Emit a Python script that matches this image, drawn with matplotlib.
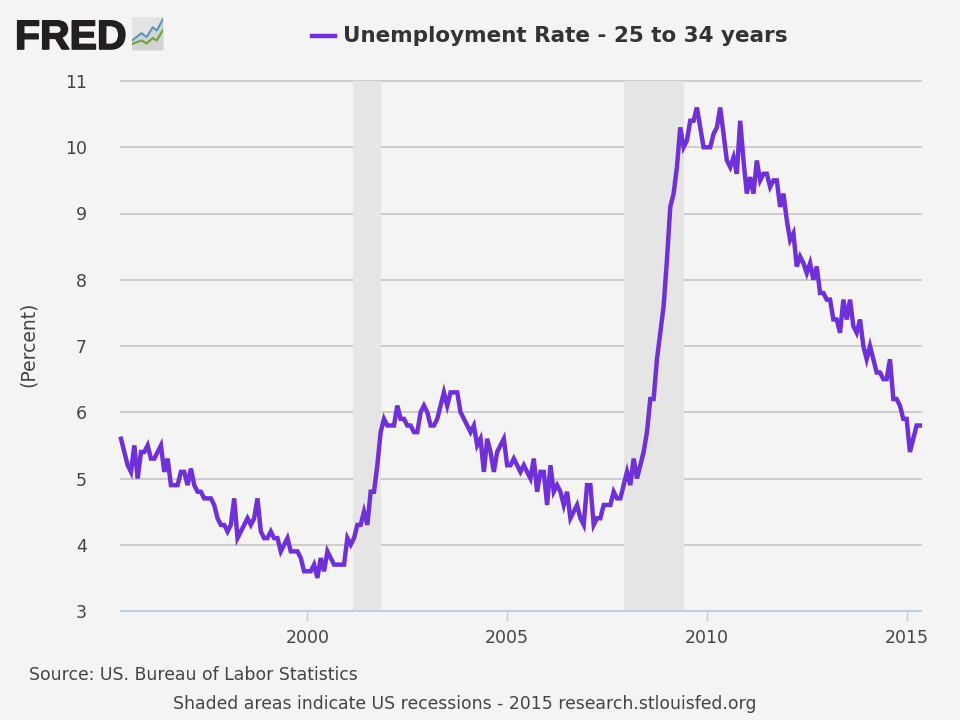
import matplotlib
matplotlib.use('Agg')
import matplotlib.pyplot as plt
import matplotlib.patheffects as pe
from matplotlib.lines import Line2D
import numpy as np

# monthly, May 1995 - May 2015
start_year = 1995 + 4 / 12
rate = [
    5.6, 5.4, 5.2, 5.1, 5.5, 5.0, 5.4, 5.4,
    5.5, 5.3, 5.3, 5.4, 5.5, 5.1, 5.3, 4.9, 4.9, 4.9, 5.1, 5.1,
    4.9, 5.15, 4.9, 4.8, 4.8, 4.7, 4.7, 4.7, 4.6, 4.4, 4.3, 4.3,
    4.2, 4.3, 4.7, 4.1, 4.2, 4.3, 4.4, 4.3, 4.4, 4.7, 4.2, 4.1,
    4.1, 4.2, 4.1, 4.1, 3.9, 4.0, 4.1, 3.9, 3.9, 3.9, 3.8, 3.6,
    3.6, 3.6, 3.7, 3.5, 3.8, 3.6, 3.9, 3.8, 3.7, 3.7, 3.7, 3.7,
    4.1, 4.0, 4.1, 4.3, 4.3, 4.5, 4.3, 4.8, 4.8, 5.2, 5.7, 5.9,
    5.8, 5.8, 5.8, 6.1, 5.9, 5.9, 5.8, 5.8, 5.7, 5.7, 6.0, 6.1,
    6.0, 5.8, 5.8, 5.9, 6.1, 6.3, 6.1, 6.3, 6.3, 6.3, 6.0, 5.9,
    5.8, 5.7, 5.8, 5.5, 5.6, 5.1, 5.6, 5.4, 5.1, 5.4, 5.5, 5.6,
    5.2, 5.2, 5.3, 5.2, 5.1, 5.2, 5.1, 5.0, 5.3, 4.8, 5.1, 5.1,
    4.6, 5.2, 4.8, 4.9, 4.8, 4.6, 4.8, 4.4, 4.5, 4.6, 4.4, 4.3,
    4.9, 4.9, 4.3, 4.4, 4.4, 4.6, 4.6, 4.6, 4.8, 4.7, 4.7, 4.9,
    5.1, 4.9, 5.3, 5.0, 5.2, 5.4, 5.7, 6.2, 6.2, 6.8, 7.2, 7.6,
    8.3, 9.1, 9.3, 9.7, 10.3, 10.0, 10.1, 10.4, 10.4, 10.6, 10.3, 10.0,
    10.0, 10.0, 10.2, 10.3, 10.6, 10.2, 9.8, 9.7, 9.85, 9.6, 10.4, 9.8,
    9.3, 9.55, 9.3, 9.8, 9.5, 9.6, 9.6, 9.4, 9.5, 9.5, 9.1, 9.3,
    8.9, 8.6, 8.7, 8.2, 8.35, 8.25, 8.1, 8.25, 8.0, 8.2, 7.8, 7.8,
    7.7, 7.7, 7.4, 7.4, 7.2, 7.7, 7.4, 7.7, 7.3, 7.2, 7.4, 7.0,
    6.8, 7.0, 6.8, 6.6, 6.6, 6.5, 6.5, 6.8, 6.2, 6.2, 6.1, 5.9,
    5.9, 5.4, 5.6, 5.8, 5.8,
]
recession_start = [2001.15, 2007.93]
recession_end = [2001.83, 2009.43]
year_ticks = [2000, 2005, 2010, 2015]
pct_ticks = [3, 4, 5, 6, 7, 8, 9, 10, 11]
# little logo chart
logo_x = [0, 0.31, 0.47, 0.67, 0.80, 1.0]
logo_blue = [0.29, 0.51, 0.39, 0.69, 0.59, 0.94]
logo_green = [0.18, 0.29, 0.20, 0.36, 0.29, 0.61]

bg = '#f4f4f4'
purple = '#7030d8'
text_col = '#444444'

years = start_year + np.arange(len(rate)) / 12

fig = plt.figure(figsize=(9.6, 7.2), dpi=100, facecolor=bg)
ax = fig.add_axes([121 / 960, 1 - 611 / 720, 800 / 960, 530 / 720], facecolor=bg)

for a, b in zip(recession_start, recession_end):
    ax.axvspan(a, b, color='#e5e5e5', lw=0, zorder=1)
ax.grid(axis='y', color='#c8c8c8', lw=1.3, zorder=2)
ax.set_axisbelow(True)
ax.plot(years, rate, color=purple, lw=3.2, solid_joinstyle='miter', zorder=3, clip_on=False)

ax.set_xlim(start_year, 2015.36)
ax.set_ylim(3, 11)
ax.set_xticks(year_ticks)
ax.set_yticks(pct_ticks)
ax.tick_params(axis='y', length=0, pad=24.5, labelsize=12.5, labelcolor=text_col)
ax.tick_params(axis='x', length=7, width=1, color='#c0d0e0', pad=6, labelsize=12.5, labelcolor=text_col)
for gl in ax.get_ygridlines():
    gl.set_clip_on(False)
for s in ['top', 'left', 'right']:
    ax.spines[s].set_visible(False)
ax.spines['bottom'].set_color('#c0d0e0')
ax.spines['bottom'].set_linewidth(1.5)

fig.text(28 / 960, 1 - 344 / 720, '(Percent)', rotation=90, ha='center', va='center',
         fontsize=13.5, color=text_col)

# legend line and title
fig.add_artist(Line2D([312 / 960, 335 / 960], [1 - 36 / 720] * 2, color=purple, lw=3.2))
fig.text(343 / 960, 1 - 36 / 720, 'Unemployment Rate - 25 to 34 years', ha='left', va='center',
         fontsize=15.5, fontweight='bold', color='#333333')

fig.text(29 / 960, 1 - 675 / 720, 'Source: US. Bureau of Labor Statistics', ha='left', va='center',
         fontsize=12.4, color=text_col)
fig.text(465 / 960, 1 - 704 / 720, 'Shaded areas indicate US recessions - 2015 research.stlouisfed.org',
         ha='center', va='center', fontsize=12.4, color=text_col)

# FRED logo, stroke makes it heavier
fig.text(15 / 960, 1 - 49 / 720, 'FRED', ha='left', va='baseline', family='Liberation Sans',
         fontsize=29.5, fontweight='bold', color='#231f20',
         path_effects=[pe.withStroke(linewidth=1.2, foreground='#231f20')])
logo = fig.add_axes([132 / 960, 1 - 50 / 720, 31 / 960, 33 / 720], facecolor='#e4e4e4')
logo.fill_between(logo_x, logo_blue, color='#d2d4d4', lw=0)
logo.plot(logo_x, logo_blue, color='#5a96b8', lw=1.5)
logo.plot(logo_x, logo_green, color='#6fa040', lw=1.5)
logo.set_xlim(0, 1)
logo.set_ylim(0, 1)
logo.set_xticks([])
logo.set_yticks([])
for s in logo.spines.values():
    s.set_visible(False)

fig.savefig('out.png', dpi=100, facecolor=bg)
